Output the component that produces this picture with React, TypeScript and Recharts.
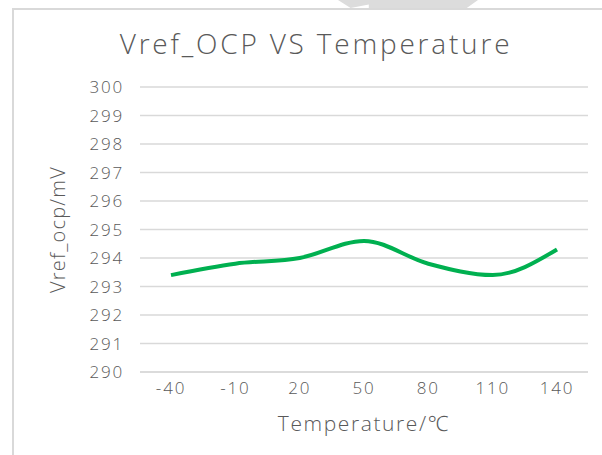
import { CartesianGrid, Label, Line, LineChart, XAxis, YAxis } from "recharts";

const temperatures = ["-40", "-10", "20", "50", "80", "110", "140"];
const vrefOcp = [293.4, 293.8, 294.0, 294.6, 293.8, 293.4, 294.3];
const yTicks = [290, 291, 292, 293, 294, 295, 296, 297, 298, 299, 300];

const data = temperatures.map((t, i) => ({ temp: t, vref: vrefOcp[i] }));

const FONT = "'Open Sans', 'Noto Sans', sans-serif";
const GRAY = "#595959";
const tickStyle = { fontSize: 17, fill: GRAY, fontFamily: FONT, fontWeight: 300, letterSpacing: 1.8 };
const labelStyle = { fontSize: 20, fill: GRAY, fontFamily: FONT, fontWeight: 300, letterSpacing: 1.2 };

export default function App() {
  return (
    <div
      style={{
        position: "fixed",
        left: 0,
        top: 0,
        width: 602,
        height: 455,
        background: "#fff",
        fontFamily: FONT,
        overflow: "hidden",
      }}
    >
      {/* bits of the frame and a stray shape from the screenshot */}
      <div
        style={{
          position: "absolute",
          left: 338,
          top: 0,
          width: 140,
          height: 8,
          background: "#dcdcdc",
          clipPath: "polygon(0 0, 100% 0, 92% 100%, 22% 100%, 22% 55%, 9% 100%)",
        }}
      />
      <div style={{ position: "absolute", left: 12, top: 8, right: 0, height: 2, background: "#d9d9d9" }} />
      <div style={{ position: "absolute", left: 12, top: 8, bottom: 0, width: 2, background: "#d9d9d9" }} />

      <div
        style={{
          position: "absolute",
          left: 0,
          width: 632,
          top: 24,
          textAlign: "center",
          fontSize: 28,
          fontWeight: 300,
          letterSpacing: 2.8,
          color: GRAY,
          lineHeight: "38px",
        }}
      >
        Vref_OCP VS Temperature
      </div>

      <div style={{ position: "absolute", left: 0, top: 0 }}>
        <LineChart width={602} height={455} data={data} margin={{ top: 87, right: 14, left: 0, bottom: 0 }}>
          <CartesianGrid vertical={false} stroke="#d9d9d9" strokeWidth={1.5} />
          <XAxis
            dataKey="temp"
            height={83}
            padding={{ left: 31, right: 31 }}
            axisLine={{ stroke: "#d9d9d9", strokeWidth: 1.5 }}
            tickLine={false}
            tickSize={0}
            tickMargin={10}
            interval={0}
            tick={tickStyle}
          >
            <Label value="Temperature/℃" position="insideBottom" offset={24} style={{ ...labelStyle, fontSize: 21, letterSpacing: 1.6 }} />
          </XAxis>
          <YAxis
            width={140}
            domain={[290, 300]}
            ticks={yTicks}
            interval={0}
            axisLine={false}
            tickLine={false}
            tickSize={0}
            tickMargin={16}
            tick={tickStyle}
          >
            <Label
              value="Vref_ocp/mV"
              angle={-90}
              position="center"
              dx={-12}
              style={{ ...labelStyle, textAnchor: "middle" }}
            />
          </YAxis>
          <Line
            type="monotone"
            dataKey="vref"
            stroke="#00b050"
            strokeWidth={4}
            dot={false}
            activeDot={false}
            isAnimationActive={false}
          />
        </LineChart>
      </div>
    </div>
  );
}
